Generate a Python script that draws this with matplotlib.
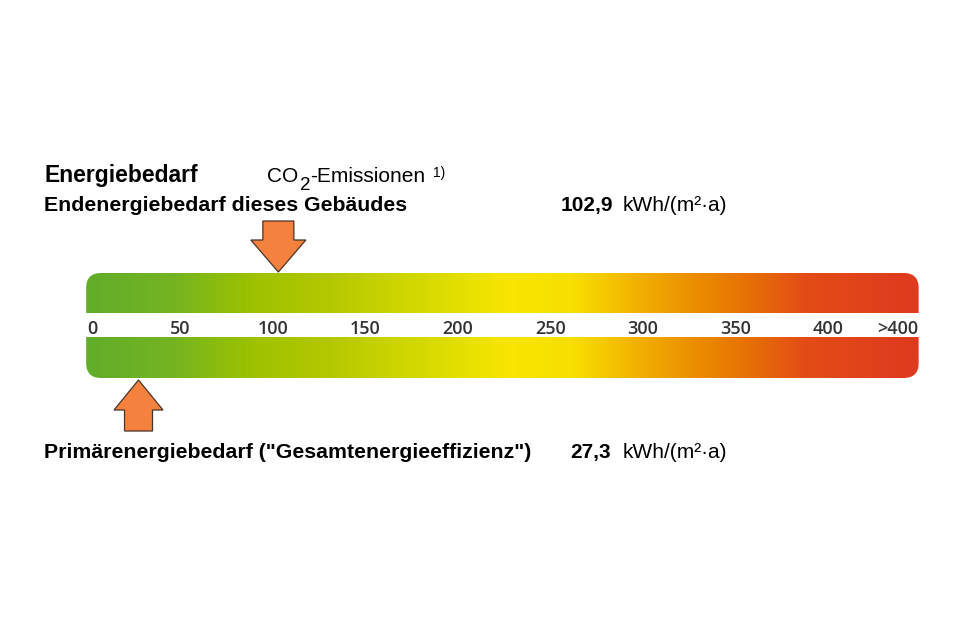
import numpy as np
import matplotlib
matplotlib.use("Agg")
import matplotlib.pyplot as plt
from matplotlib.colors import LinearSegmentedColormap, Normalize
from matplotlib.patches import FancyBboxPatch, Rectangle, Polygon

# ---------------- data ----------------
tick_values = [2.5, 50, 100, 150, 200, 250, 300, 350, 400]
tick_labels = ["0", "50", "100", "150", "200", "250", "300", "350", "400"]
overflow_label = ">400"
scale_min, scale_max = -1.0, 449.0

end_energy_value = 102.9
primary_energy_value = 27.3
end_energy_text = "102,9"
primary_energy_text = "27,3"
unit_text = "kWh/(m²·a)"

stop_values = [-1, 45, 88, 130, 170, 200, 225, 262, 282, 305, 332, 360, 388, 449]
stop_colors = ["#62ad2a", "#74b422", "#9dc200", "#b4c800", "#cfd600", "#e3df00",
               "#f7e500", "#f8df00", "#f5c500", "#f0a800", "#eb8a00", "#e66e06",
               "#e34c16", "#de3a1f"]

# ---------------- layout ----------------
W, H = 960, 640
px_per_unit = 1.85
x0_px = 88
fig = plt.figure(figsize=(9.6, 6.4), dpi=100)
ax = fig.add_axes([0, 0, 1, 1])
ax.set_xlim(-x0_px / px_per_unit, (W - x0_px) / px_per_unit)
ax.set_ylim(H, 0)
ax.axis("off")

bar_top, band_top, band_bot, bar_bot = 273, 313, 337, 378
radius_px = 15

# gradient bar
lo, hi = stop_values[0], stop_values[-1]
norm_stops = [(v - lo) / (hi - lo) for v in stop_values]
cmap = LinearSegmentedColormap.from_list("energy", list(zip(norm_stops, stop_colors)))
grad = np.linspace(scale_min, scale_max, 900)[np.newaxis, :]
img = ax.imshow(grad, cmap=cmap, norm=Normalize(lo, hi), aspect="auto",
                extent=(scale_min, scale_max, bar_bot, bar_top), zorder=1,
                interpolation="bilinear")
clip = FancyBboxPatch((scale_min, bar_top), scale_max - scale_min, bar_bot - bar_top,
                      boxstyle=f"round,pad=0,rounding_size={radius_px / px_per_unit}",
                      mutation_aspect=px_per_unit, facecolor="none", edgecolor="none",
                      transform=ax.transData)
ax.add_patch(clip)
img.set_clip_path(clip)
ax.add_patch(Rectangle((scale_min - 2, band_top), scale_max - scale_min + 4,
                       band_bot - band_top, facecolor="white", edgecolor="none", zorder=2))

tick_font = dict(family=["Open Sans", "DejaVu Sans"], weight="semibold",
                 size=13, color="#333333")
label_y = 334
for v, lab in zip(tick_values, tick_labels):
    ax.text(v, label_y, lab, ha="center", va="baseline", zorder=3, **tick_font)
ax.text(scale_max, label_y, overflow_label, ha="right", va="baseline", zorder=3,
        **tick_font)

# arrows
def arrow(value, tip_y, base_y, end_y, head_half_px, shaft_half_px):
    h = head_half_px / px_per_unit
    s = shaft_half_px / px_per_unit
    pts = [(value, tip_y), (value + h, base_y), (value + s, base_y), (value + s, end_y),
           (value - s, end_y), (value - s, base_y), (value - h, base_y)]
    ax.add_patch(Polygon(pts, closed=True, facecolor="#f4823e", edgecolor="#4a3428",
                         linewidth=0.9, zorder=4))

arrow(end_energy_value, 272, 240, 221, 27.5, 15.5)
arrow(primary_energy_value, 380, 410, 431, 24.5, 14)

# texts
def ftext(x, y, s, **kw):
    fig.text(x / W, 1 - y / H, s, va="baseline", ha="left", color="black", **kw)

fam = ["Liberation Sans", "DejaVu Sans"]
reg = dict(family=fam, size=15)

ftext(44, 182, "Energiebedarf", family=fam, weight="bold", size=16.5)
ftext(267, 182, "CO", **reg)
ftext(300, 190, "2", family=fam, size=13.5)
ftext(310, 182, "-Emissionen", **reg)
ftext(433, 177, "1)", family=fam, size=10)
ftext(44, 211, "Endenergiebedarf dieses Gebäudes", family=fam, weight="bold", size=15.3)
ftext(561, 211, end_energy_text, family=fam, weight="bold", size=15)
ftext(623, 211, unit_text, **reg)
ftext(44, 458, "Primärenergiebedarf (\"Gesamtenergieeffizienz\")", family=fam,
      weight="bold", size=15.3)
ftext(570, 458, primary_energy_text, family=fam, weight="bold", size=15)
ftext(623, 458, unit_text, **reg)

fig.savefig("out.png", dpi=100, facecolor="white")
